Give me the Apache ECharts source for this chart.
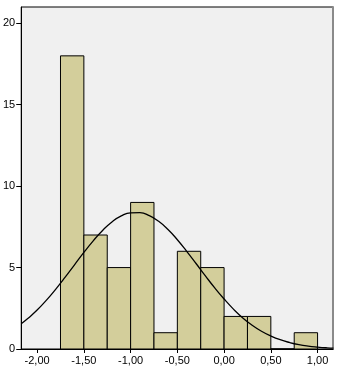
<!DOCTYPE html>
<html>
<head>
<meta charset="utf-8">
<style>
html,body{margin:0;padding:0;background:#fff;}
#chart{width:351px;height:372px;}
</style>
</head>
<body>
<div id="chart"></div>
<script src="https://cdn.jsdelivr.net/npm/echarts@6/dist/echarts.min.js"></script>
<script type="text/javascript">
// histogram bins (left edge, right edge) and counts
var binStart = [-1.75, -1.5, -1.25, -1.0, -0.75, -0.5, -0.25, 0.0, 0.25, 0.5, 0.75];
var binEnd   = [-1.5, -1.25, -1.0, -0.75, -0.5, -0.25, 0.0, 0.25, 0.5, 0.75, 1.0];
var counts   = [18, 7, 5, 9, 1, 6, 5, 2, 2, 0, 1];

// normal curve
var curveX = [-2.17, -2.1, -2.0, -1.9, -1.8, -1.7, -1.6, -1.5, -1.4, -1.3, -1.2, -1.1, -1.0, -0.9, -0.8, -0.7, -0.6, -0.5, -0.4, -0.3, -0.2, -0.1, 0.0, 0.1, 0.2, 0.3, 0.4, 0.5, 0.6, 0.7, 0.8, 0.9, 1.0, 1.1, 1.17];
var curveY = [1.55, 1.87, 2.39, 3.00, 3.68, 4.41, 5.17, 5.93, 6.64, 7.28, 7.80, 8.17, 8.36, 8.37, 8.19, 7.84, 7.34, 6.71, 6.00, 5.25, 4.49, 3.75, 3.07, 2.45, 1.91, 1.46, 1.09, 0.80, 0.57, 0.40, 0.27, 0.18, 0.12, 0.075, 0.055];

// tick labels
var xTicks = [-2, -1.5, -1, -0.5, 0, 0.5, 1];
var yTicks = [0, 5, 10, 15, 20];

(function() {
    var myChart = echarts.init(document.getElementById('chart'));

    var barData = [], lineData = [];
    for (var i = 0; i < counts.length; i++) {
        barData.push([binStart[i], binEnd[i], counts[i]]);
    }
    for (var j = 0; j < curveX.length; j++) {
        lineData.push([curveX[j], curveY[j]]);
    }

    var labelFont = {color: '#000', fontSize: 11, fontFamily: 'Liberation Sans, Arial, sans-serif'};

    var option = {
        animation: false,
        grid: {
            left: 20, top: 7, right: 18, bottom: 23,
            show: true,
            backgroundColor: '#f0f0f0',
            borderColor: '#000',
            borderWidth: 1
        },
        xAxis: [{
            type: 'value',
            position: 'bottom',
            min: -2.17, max: 1.165,
            splitLine: {show: false},
            axisLine: {onZero: false, lineStyle: {color: '#000', width: 1}},
            axisTick: {show: true, length: 4, lineStyle: {color: '#000'}, customValues: xTicks},
            axisLabel: Object.assign({
                margin: 6,
                customValues: xTicks,
                formatter: function(v) { return v.toFixed(2).replace('.', ','); }
            }, labelFont)
        }],
        yAxis: [{
            type: 'value',
            position: 'left',
            min: 0, max: 21,
            splitLine: {show: false},
            axisLine: {show: true, onZero: false, lineStyle: {color: '#000', width: 1}},
            axisTick: {show: true, length: 5, lineStyle: {color: '#000'}, customValues: yTicks},
            axisLabel: Object.assign({margin: 6, customValues: yTicks}, labelFont)
        }, {
            type: 'value',
            position: 'right',
            min: 0, max: 21,
            splitLine: {show: false},
            axisLine: {show: true, onZero: false, lineStyle: {color: '#8a8a8a', width: 2}},
            axisTick: {show: false},
            axisLabel: {show: false}
        }],
        series: [{
            type: 'custom',
            data: barData,
            renderItem: function(params, api) {
                var p0 = api.coord([api.value(0), api.value(2)]);
                var p1 = api.coord([api.value(1), 0]);
                return {
                    type: 'rect',
                    shape: {x: p0[0], y: p0[1], width: p1[0] - p0[0], height: p1[1] - p0[1]},
                    style: {fill: '#d3ce9b', stroke: '#000', lineWidth: 1}
                };
            },
            z: 2
        }, {
            type: 'line',
            data: lineData,
            smooth: true,
            showSymbol: false,
            symbol: 'none',
            clip: true,
            lineStyle: {color: '#000', width: 1.3},
            z: 3
        }]
    };
    myChart.setOption(option);
})();
</script>
</body>
</html>
